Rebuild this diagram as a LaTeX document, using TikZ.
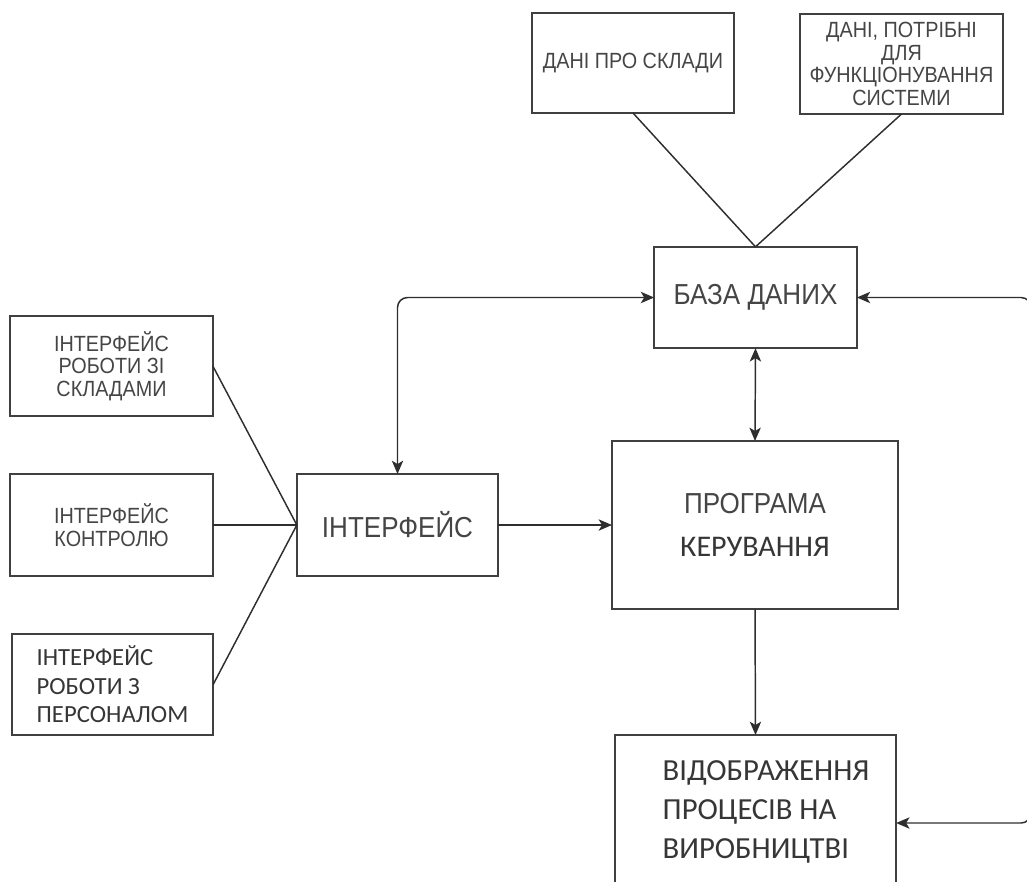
\documentclass[tikz,border=0pt]{standalone}
\usepackage{fontspec}
\usepackage{xcolor}
\usetikzlibrary{arrows.meta, positioning}
\newfontfamily\narrowfont[FakeStretch=0.9]{Liberation Sans}
\newfontfamily\calfont{Carlito}
\definecolor{boxgray}{HTML}{404040}
\definecolor{linegray}{HTML}{2E2E2E}
\definecolor{txtgray}{HTML}{454545}
\definecolor{caltxt}{HTML}{363636}

\begin{document}
\begin{tikzpicture}[x=0.75pt, y=-0.75pt, >={Stealth[length=10pt, width=8.5pt, inset=2.5pt]},
    blk/.style={draw=boxgray, line width=1.2pt, inner sep=0pt, outer sep=0pt, align=center, text=txtgray},
    smalltxt/.style={font=\fontsize{16.5}{17}\narrowfont},
    bigtxt/.style={font=\fontsize{21.7}{26}\narrowfont},
    link/.style={draw=linegray, line width=1.1pt}]
    \useasboundingbox (0,0) rectangle (1027,881);
    \clip (0,0) rectangle (1027,881);

    % дані
    \node[blk, smalltxt, minimum width=151.5pt, minimum height=75pt] (sklady) at (633,63) {ДАНІ ПРО СКЛАДИ};
    \node[blk, smalltxt, minimum width=152pt, minimum height=75pt] (sysdata) at (901.5,64) {ДАНІ, ПОТРІБНІ\\ДЛЯ\\ФУНКЦІОНУВАННЯ\\СИСТЕМИ};
    \node[blk, bigtxt, minimum width=152pt, minimum height=76pt] (db) at (755.5,297.5) {БАЗА ДАНИХ};

    % інтерфейси
    \node[blk, smalltxt, minimum width=152pt, minimum height=75pt] (skl) at (111.5,366) {ІНТЕРФЕЙС\\РОБОТИ ЗІ\\СКЛАДАМИ};
    \node[blk, smalltxt, minimum width=152pt, minimum height=76.5pt] (ctrl) at (111.5,525) {ІНТЕРФЕЙС\\КОНТРОЛЮ};
    \node[blk, align=left, text=caltxt, font=\fontsize{18.5}{21.4}\calfont, minimum width=151pt, minimum height=76pt] (staff) at (112.5,684.5) {ІНТЕРФЕЙС\\РОБОТИ З\\ПЕРСОНАЛОМ};
    \node[blk, bigtxt, minimum width=151pt, minimum height=76.5pt] (iface) at (397.5,525) {ІНТЕРФЕЙС};

    % програма і відображення
    \node[blk, font=\fontsize{21.7}{32}\narrowfont, minimum width=214.5pt, minimum height=126pt] (prog) at (755,525) {ПРОГРАМА\\{\fontsize{22.5}{32}\calfont\color{caltxt}КЕРУВАННЯ}};
    \node[blk, minimum width=211pt, minimum height=132pt] (vid) at (755.5,823) {};
    \node[align=left, text=caltxt, font=\fontsize{23}{29}\calfont, inner sep=0pt] (vidtxt) at (766,812) {ВІДОБРАЖЕННЯ\\ПРОЦЕСІВ НА\\ВИРОБНИЦТВІ};
    \coordinate (rside) at (1031,560);

    % зв'язки
    \draw[link] (sklady.south) -- (db.north);
    \draw[link] (sysdata.south) -- (db.north);
    \foreach \src in {skl, ctrl, staff}
        \draw[link] (\src.east) -- (iface.west);
    \draw[link, <->, rounded corners=7.5pt] (iface.north) |- (db.west);
    \draw[link, <->] (db.south) -- (prog.north);
    \draw[link, ->] (iface.east) -- (prog.west);
    \draw[link, ->] (prog.south) -- (vid.north);
    \draw[link, <->, rounded corners=7.5pt] (db.east) -| (rside) |- (vid.east);
\end{tikzpicture}
\end{document}
